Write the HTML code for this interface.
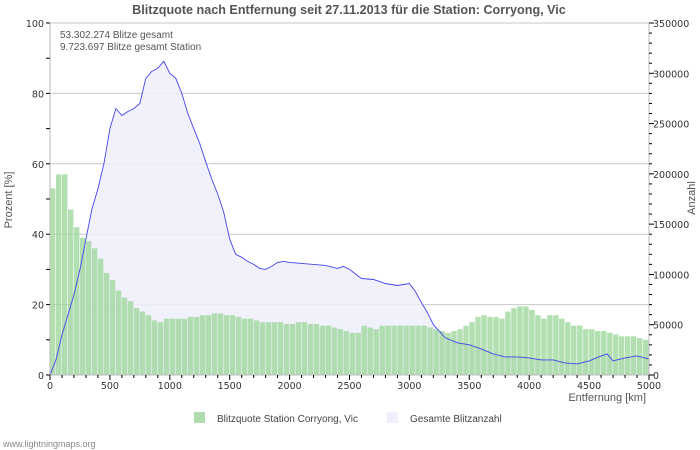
<!DOCTYPE html>
<html><head><meta charset="utf-8"><style>
body{margin:0;background:#fff;}
svg{display:block;font-family:"Liberation Sans","DejaVu Sans",sans-serif;}
</style></head><body>
<svg id="chart" width="700" height="450">
<text x="349" y="14" text-anchor="middle" font-size="12.6" font-weight="bold" fill="#555">Blitzquote nach Entfernung seit 27.11.2013 für die Station: Corryong, Vic</text>
<g id="grid"></g>
<g id="line"></g>
<g id="axes"></g>
<text x="60" y="38" font-size="10" fill="#555">53.302.274 Blitze gesamt</text>
<text x="60" y="50" font-size="10" fill="#555">9.723.697 Blitze gesamt Station</text>
<text transform="translate(12,200) rotate(-90)" text-anchor="middle" font-size="11" fill="#555">Prozent   [%]</text>
<text transform="translate(695,198) rotate(-90)" text-anchor="middle" font-size="11" fill="#555">Anzahl</text>
<text x="646" y="401" text-anchor="end" font-size="11" fill="#555">Entfernung   [km]</text>
<rect x="194" y="412" width="11" height="11" fill="#aedcac"/>
<text x="217" y="422" font-size="10" fill="#444">Blitzquote Station Corryong, Vic</text>
<rect x="387" y="412" width="11" height="11" fill="#eeeefc"/>
<text x="410" y="422" font-size="10" fill="#444">Gesamte Blitzanzahl</text>
<text x="3" y="447" font-size="9" fill="#888">www.lightningmaps.org</text>
</svg>
<script>
const quoteStep = 50;
const quoteValues = [53,57,57,47,42,39,38,36,33,29,27,24,22,21,19,18,17,15.5,15,16,16,16,16,16.5,16.5,17,17,17.5,17.5,17,17,16.5,16,16,15.5,15,15,15,15,14.5,14.5,15,15,14.5,14.5,14,14,13.5,13,12.5,12,12,14,13.5,13,14,14,14,14,14,14,14,14,13.5,13,12.5,12,12.5,13,14,15,16.5,17,16.5,16.5,16,18,19,19.5,19.5,18.5,17,16,17,17,16,15,14,14,13,13,12.5,12.5,12,11.5,11,11,11,10.5,10];
const countDist = [0,50,100,150,200,250,300,350,400,450,500,550,600,650,700,750,800,850,900,950,1000,1050,1100,1150,1200,1250,1300,1350,1400,1450,1500,1550,1600,1650,1700,1750,1800,1850,1900,1950,2000,2100,2200,2300,2400,2450,2500,2600,2700,2800,2900,3000,3050,3100,3150,3200,3300,3400,3500,3600,3700,3800,3900,4000,4100,4200,4300,4400,4500,4600,4650,4700,4800,4900,5000];
const countValues = [0,15000,40000,60000,80000,105000,135000,165000,185000,210000,245000,265000,258000,262000,265000,270000,295000,302000,305000,312000,300000,295000,280000,260000,245000,230000,212000,195000,180000,162000,135000,120000,117000,113000,110000,106000,105000,108000,112000,113000,112000,111000,110000,109000,106000,108000,105000,96000,95000,91000,89000,91000,83000,72000,62000,50000,37000,32000,30000,26000,21000,18000,18000,17000,15000,15000,12000,11000,14000,19000,21000,14000,17000,19000,16000];
const leftTicks = [0,20,40,60,80,100];
const rightTicks = [0,50000,100000,150000,200000,250000,300000,350000];
const xTicks = [0,500,1000,1500,2000,2500,3000,3500,4000,4500,5000];

const X0=50,X1=649,Y0=375,Y1=23;
const xS=d=>X0+d/5000*(X1-X0);
const yL=v=>Y0-v/100*(Y0-Y1);
const yR=v=>Y0-v/350000*(Y0-Y1);
const NS="http://www.w3.org/2000/svg";
function mk(tag,attrs,parent){const e=document.createElementNS(NS,tag);for(const k in attrs)e.setAttribute(k,attrs[k]);document.getElementById(parent).appendChild(e);return e;}

leftTicks.forEach(t=>{
  const g=mk('line',{x1:X0,x2:X1,y1:yL(t),y2:yL(t),stroke:'#c8c8c8','stroke-width':1},'grid');
  
  
  const l=mk('text',{x:44,y:yL(t)+4,'text-anchor':'end','font-size':9.5,'font-family':'DejaVu Sans, sans-serif',fill:'#333'},'axes');
  l.textContent=t;
  
  
});
let pts=countDist.map((d,i)=>xS(d).toFixed(1)+','+yR(countValues[i]).toFixed(1));
const area=mk('polygon',{points:xS(0)+','+Y0+' '+pts.join(' ')+' '+xS(5000)+','+Y0,fill:'#eeeefc','fill-opacity':0.85},'line');


const bw=(X1-X0)/100;
quoteValues.forEach((v,i)=>{
  const x=xS(i*quoteStep);
  const b=mk('rect',{x:x.toFixed(1),y:yL(v).toFixed(1),width:(bw-0.6).toFixed(1),height:(Y0-yL(v)).toFixed(1),fill:'#9fd89c','fill-opacity':0.8},'line');
  
  
});
const ln=mk('polyline',{points:pts.join(' '),fill:'none',stroke:'#4444ee','stroke-width':0.9},'line');



mk('line',{x1:X0,x2:X0,y1:Y1,y2:Y0,stroke:'#bbb'},'axes');
mk('line',{x1:X1,x2:X1,y1:Y1,y2:Y0,stroke:'#bbb'},'axes');
mk('line',{x1:X0,x2:X1,y1:Y0,y2:Y0,stroke:'#bbb'},'axes');
for(let p=0;p<=100;p+=10) mk('line',{x1:X0-4,x2:X0,y1:yL(p),y2:yL(p),stroke:'#000'},'axes');
for(let c=0;c<=350000;c+=10000){mk('line',{x1:X1,x2:X1+(c%50000?3:5),y1:yR(c),y2:yR(c),stroke:'#000'},'axes');}
rightTicks.forEach(t=>{
  const l=mk('text',{x:653,y:yR(t)+4,'font-size':9.5,'font-family':'DejaVu Sans, sans-serif',fill:'#333'},'axes');
  l.textContent=t;
  
  
});
for(let d=0;d<=5000;d+=100) mk('line',{x1:xS(d),x2:xS(d),y1:Y0,y2:Y0+(d%500?3:5),stroke:'#000'},'axes');
xTicks.forEach(t=>{
  const l=mk('text',{x:xS(t),y:Y0+14,'text-anchor':'middle','font-size':9.5,'font-family':'DejaVu Sans, sans-serif',fill:'#333'},'axes');
  l.textContent=t;
  
  
});
</script>
</body></html>
